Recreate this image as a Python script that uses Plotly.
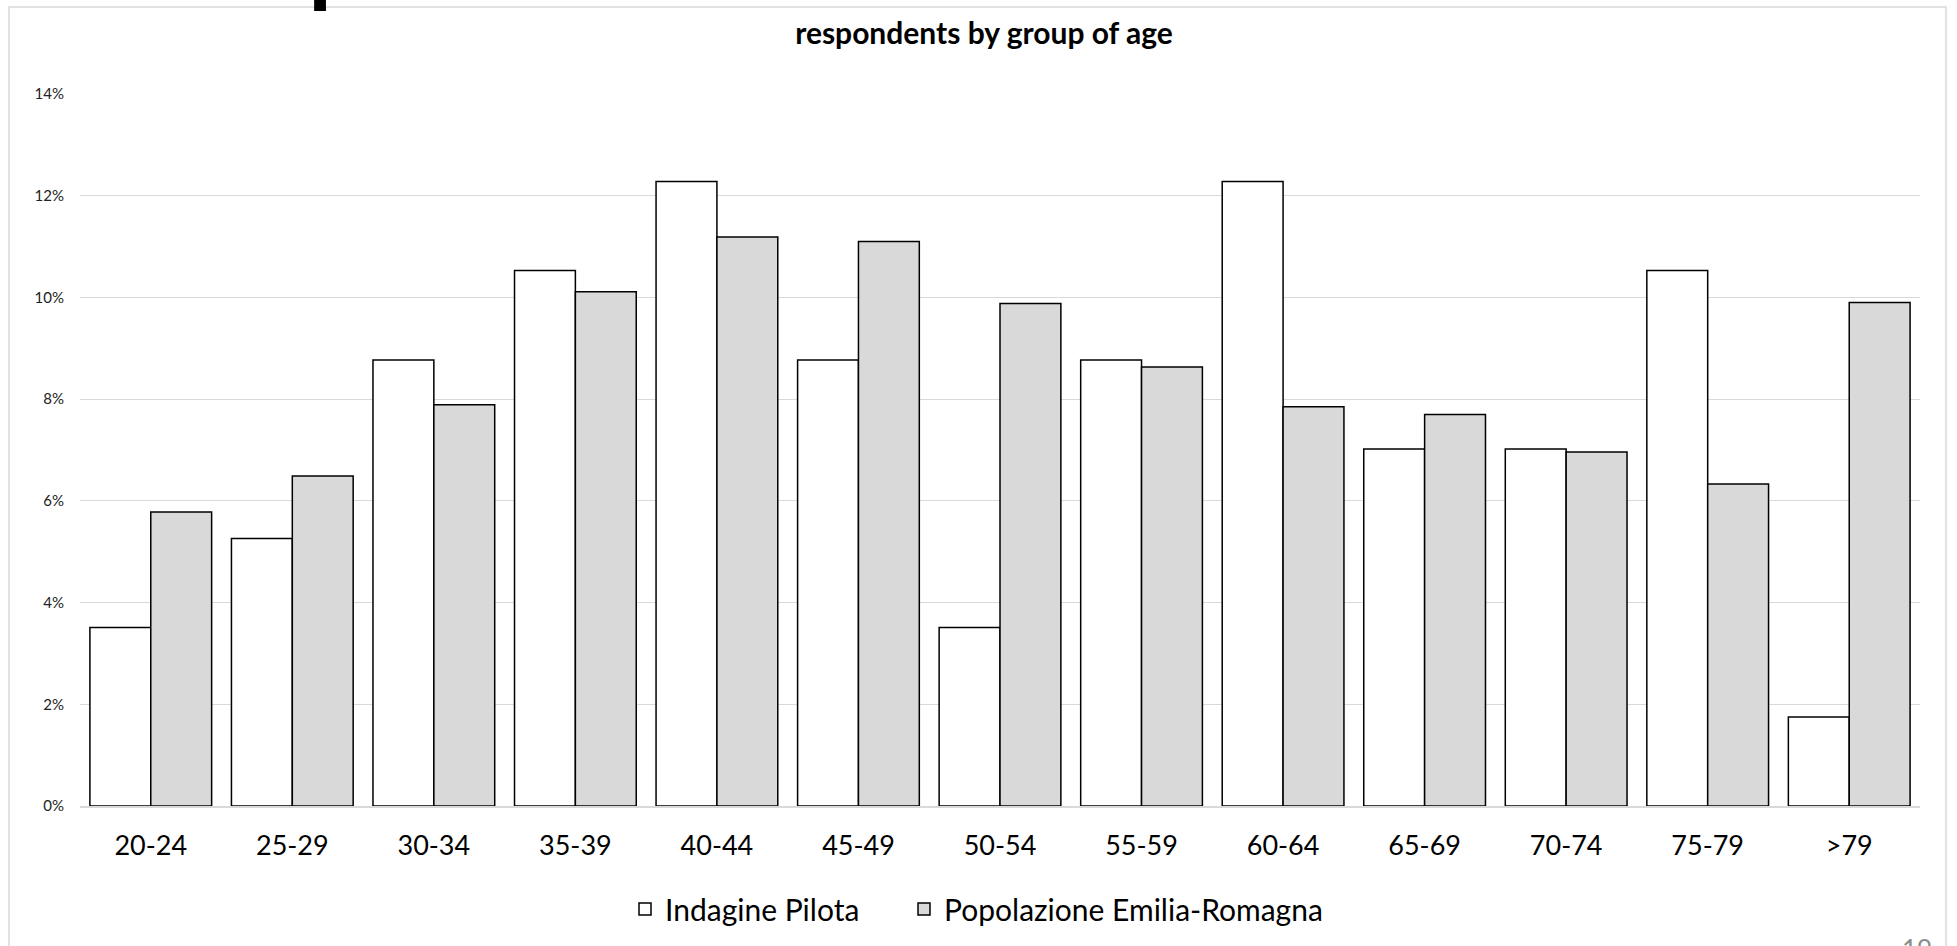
import plotly.graph_objects as go

age_groups = ["20-24", "25-29", "30-34", "35-39", "40-44", "45-49", "50-54",
              "55-59", "60-64", "65-69", "70-74", "75-79", ">79"]
indagine_pilota = [0.0351, 0.0526, 0.0877, 0.1053, 0.1228, 0.0877, 0.0351,
                   0.0877, 0.1228, 0.0702, 0.0702, 0.1053, 0.0175]
popolazione_er = [0.0578, 0.0649, 0.0789, 0.1011, 0.1119, 0.1110, 0.0988,
                  0.0863, 0.0785, 0.0770, 0.0696, 0.0633, 0.0990]
y_ticks = [0, 0.02, 0.04, 0.06, 0.08, 0.10, 0.12, 0.14]

W, H = 1957, 946
L, R, T, B = 80, 37, 94, 140
PW, PH = W - L - R, H - T - B


def px_x(x):
    return (x - L) / PW


def px_y(y):
    return (H - B - y) / PH


FONT = "Lato"
LEG_FONT = dict(family=FONT, size=30, color="#000000")

fig = go.Figure()
fig.add_trace(go.Bar(
    x=age_groups, y=indagine_pilota, name="Indagine Pilota", legend="legend",
    marker=dict(color="#ffffff", line=dict(color="#000000", width=1.5)),
))
fig.add_trace(go.Bar(
    x=age_groups, y=popolazione_er, name="Popolazione Emilia-Romagna",
    legend="legend2",
    marker=dict(color="#d9d9d9", line=dict(color="#000000", width=1.5)),
))

fig.update_layout(
    width=W, height=H,
    margin=dict(l=L, r=R, t=T, b=B, autoexpand=False),
    paper_bgcolor="#ffffff", plot_bgcolor="#ffffff",
    barmode="group", bargap=0.14, bargroupgap=0,
    font=dict(family=FONT, color="#000000"),
    title=dict(text="<b>respondents by group of age</b>",
               x=px_x(984), xref="paper", xanchor="center",
               y=1 - 33 / H, yref="container", yanchor="middle",
               font=dict(family=FONT, size=30, color="#000000")),
    legend=dict(orientation="h", x=px_x(625), xanchor="left",
                y=px_y(909), yanchor="middle", font=LEG_FONT,
                bgcolor="rgba(0,0,0,0)"),
    legend2=dict(orientation="h", x=px_x(904), xanchor="left",
                 y=px_y(909), yanchor="middle", font=LEG_FONT,
                 bgcolor="rgba(0,0,0,0)"),
    xaxis=dict(showgrid=False, showline=True, linecolor="#d9d9d9", linewidth=1.5,
               ticks="outside", ticklen=15, tickcolor="rgba(0,0,0,0)",
               tickfont=dict(family=FONT, size=27, color="#000000"),
               zeroline=False),
    yaxis=dict(range=[0, 0.14], tickvals=y_ticks, tickformat=".0%",
               showgrid=True, gridcolor="#d9d9d9", gridwidth=1,
               zeroline=False, showline=False,
               ticks="outside", ticklen=12, tickcolor="rgba(0,0,0,0)",
               tickfont=dict(family=FONT, size=15, color="#222222")),
    showlegend=True,
)

# chart frame
fig.add_shape(type="rect", xref="paper", yref="paper",
              x0=px_x(9), x1=px_x(1946), y0=px_y(975), y1=px_y(7),
              line=dict(color="#d9d9d9", width=1.5), fillcolor="rgba(0,0,0,0)",
              layer="below")

# cut-off slide title and page number
fig.add_annotation(text="<b>Sample</b>", xref="paper", yref="paper",
                   x=px_x(125), y=px_y(17), xanchor="left", yanchor="bottom",
                   showarrow=False,
                   font=dict(family=FONT, size=96, color="#000000"))
fig.add_annotation(text="19", xref="paper", yref="paper",
                   x=px_x(1900), y=px_y(931), xanchor="left", yanchor="top",
                   showarrow=False,
                   font=dict(family=FONT, size=26, color="#8c8c8c"))

fig.write_html("out.html",
               config={"displayModeBar": False},
               post_script="document.body.style.margin='0px';")
